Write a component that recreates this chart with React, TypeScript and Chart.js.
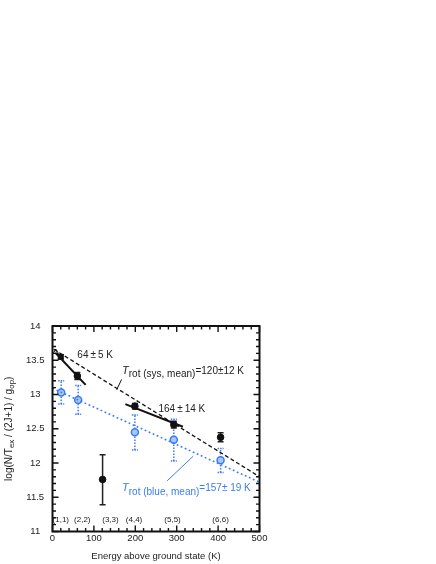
import React, { useEffect, useRef } from "react";
import { Chart, registerables } from "chart.js";
Chart.register(...registerables);

// ---- data ----
const sysEnergy = [20, 60, 121, 199, 293, 406];
const sysValue = [13.55, 13.27, 11.76, 12.83, 12.56, 12.375];
const sysErrLow = [13.52, 13.22, 11.39, 12.79, 12.51, 12.31];
const sysErrHigh = [13.58, 13.32, 12.12, 12.87, 12.61, 12.44];
const sysMarker = ["rect", "circle", "circle", "circle", "circle", "circle"];

const blueEnergy = [21, 62, 199, 293, 406];
const blueValue = [13.03, 12.92, 12.45, 12.34, 12.04];
const blueErrLow = [12.86, 12.71, 12.19, 12.03, 11.86];
const blueErrHigh = [13.2, 13.13, 12.7, 12.64, 12.21];

const openMarkerX = [8];
const openMarkerY = [13.62];

const sysFitX = [3, 500];
const sysFitY = [13.66, 11.8];
const blueFitX = [0, 500];
const blueFitY = [13.09, 11.72];
const lowFitX = [7, 80];
const lowFitY = [13.61, 13.14];
const midFitX = [176, 315];
const midFitY = [12.86, 12.53];
const sysLeaderX = [155, 167];
const sysLeaderY = [13.07, 13.22];
const blueLeaderX = [277, 340];
const blueLeaderY = [11.74, 12.1];

const levelLabels = ["(1,1)", "(2,2)", "(3,3)", "(4,4)", "(5,5)", "(6,6)"];
const levelLabelX = [20, 72, 140, 197, 290, 406];
const levelLabelY = 11.17;

const xTickValues = [0, 100, 200, 300, 400, 500];
const yTickValues = [11, 11.5, 12, 12.5, 13, 13.5, 14];

const xTitle = "Energy above ground state (K)";

// ---- styles ----
const BLUE = "#3a7cf2";
const BLUE_FILL = "#a9c6ff";
const FONT = "'Liberation Sans', Arial, sans-serif";
const TXT = "#222";

type Seg = { t: string; sub?: boolean; italic?: boolean; big?: boolean };

function drawRich(ctx: CanvasRenderingContext2D, segs: Seg[], x: number, y: number, size: number, color: string) {
  let cx = x;
  for (const s of segs) {
    const fs = s.big ? size * 1.1 : size;
    ctx.font = `${s.italic ? "italic " : ""}${fs}px ${FONT}`;
    ctx.fillStyle = color;
    ctx.textBaseline = "alphabetic";
    ctx.textAlign = "left";
    ctx.fillText(s.t, cx, s.sub ? y + 3.5 : y);
    cx += ctx.measureText(s.t).width;
  }
  return cx - x;
}

function line(d: number[], e: number[]) {
  return d.map((v, i) => ({ x: v, y: e[i] }));
}

const decorPlugin = {
  id: "decor",
  beforeDatasetsDraw(chart: any) {
    const ctx: CanvasRenderingContext2D = chart.ctx;
    const xs = chart.scales.x;
    const ys = chart.scales.y;
    ctx.save();
    ctx.strokeStyle = "#222";
    ctx.lineWidth = 1.5;
    sysEnergy.forEach((e, i) => {
      const px = xs.getPixelForValue(e);
      const y1 = ys.getPixelForValue(sysErrLow[i]);
      const y2 = ys.getPixelForValue(sysErrHigh[i]);
      ctx.beginPath();
      ctx.moveTo(px, y1);
      ctx.lineTo(px, y2);
      ctx.moveTo(px - 3, y1);
      ctx.lineTo(px + 3, y1);
      ctx.moveTo(px - 3, y2);
      ctx.lineTo(px + 3, y2);
      ctx.stroke();
    });
    ctx.strokeStyle = BLUE;
    ctx.lineWidth = 1.5;
    blueEnergy.forEach((e, i) => {
      const px = xs.getPixelForValue(e);
      const y1 = ys.getPixelForValue(blueErrLow[i]);
      const y2 = ys.getPixelForValue(blueErrHigh[i]);
      ctx.setLineDash([1.5, 1.5]);
      ctx.beginPath();
      ctx.moveTo(px, y1);
      ctx.lineTo(px, y2);
      ctx.stroke();
      ctx.setLineDash([1.5, 1]);
      ctx.beginPath();
      ctx.moveTo(px - 3, y1);
      ctx.lineTo(px + 3, y1);
      ctx.moveTo(px - 3, y2);
      ctx.lineTo(px + 3, y2);
      ctx.stroke();
    });
    ctx.restore();
  },
  afterDraw(chart: any) {
    const ctx: CanvasRenderingContext2D = chart.ctx;
    const xs = chart.scales.x;
    const ys = chart.scales.y;
    const a = chart.chartArea;
    ctx.save();
    ctx.strokeStyle = "#111";
    ctx.lineWidth = 2;
    ctx.strokeRect(a.left, a.top, a.right - a.left, a.bottom - a.top);
    ctx.lineWidth = 1.4;
    ctx.beginPath();
    for (let v = 0; v <= 500; v += 20) {
      const px = xs.getPixelForValue(v);
      const L = v % 100 === 0 ? 6 : 3.5;
      ctx.moveTo(px, a.bottom);
      ctx.lineTo(px, a.bottom - L);
      ctx.moveTo(px, a.top);
      ctx.lineTo(px, a.top + L);
    }
    for (let k = 0; k <= 30; k++) {
      const v = 11 + k * 0.1;
      const py = ys.getPixelForValue(v);
      const L = k % 5 === 0 ? 6 : 3.5;
      ctx.moveTo(a.left, py);
      ctx.lineTo(a.left + L, py);
      ctx.moveTo(a.right, py);
      ctx.lineTo(a.right - L, py);
    }
    ctx.stroke();

    ctx.font = `8px ${FONT}`;
    ctx.fillStyle = TXT;
    ctx.textAlign = "center";
    ctx.textBaseline = "middle";
    levelLabels.forEach((l, i) => {
      ctx.fillText(l, xs.getPixelForValue(levelLabelX[i]), ys.getPixelForValue(levelLabelY));
    });

    drawRich(ctx, [{ t: "64\u2009\u00b1\u20095 K" }], xs.getPixelForValue(60), ys.getPixelForValue(13.53), 10, TXT);
    drawRich(ctx, [{ t: "164\u2009\u00b1\u200914 K" }], xs.getPixelForValue(256), ys.getPixelForValue(12.74), 10, TXT);
    drawRich(
      ctx,
      [{ t: "T", italic: true, big: true }, { t: "rot (sys, mean)", sub: true }, { t: "=120\u00b112 K" }],
      xs.getPixelForValue(168),
      ys.getPixelForValue(13.3),
      10,
      TXT
    );
    drawRich(
      ctx,
      [{ t: "T", italic: true, big: true }, { t: "rot (blue, mean)", sub: true }, { t: "=157\u00b1 19 K" }],
      xs.getPixelForValue(168),
      ys.getPixelForValue(11.59),
      10,
      BLUE
    );

    ctx.font = `9.5px ${FONT}`;
    ctx.fillStyle = TXT;
    ctx.textAlign = "center";
    ctx.textBaseline = "middle";
    ctx.fillText(xTitle, (a.left + a.right) / 2, 556);

    ctx.save();
    ctx.translate(8, (a.top + a.bottom) / 2);
    ctx.rotate(-Math.PI / 2);
    const segs: Seg[] = [
      { t: "log(N/T" },
      { t: "ex", sub: true },
      { t: " / (2J+1) / g" },
      { t: "op", sub: true },
      { t: ")" },
    ];
    const base = 10;
    let w = 0;
    for (const s of segs) {
      ctx.font = `${s.sub ? base * 0.8 : base}px ${FONT}`;
      w += ctx.measureText(s.t).width;
    }
    let cx = -w / 2;
    for (const s of segs) {
      const fs = s.sub ? base * 0.8 : base;
      ctx.font = `${fs}px ${FONT}`;
      ctx.fillStyle = TXT;
      ctx.textAlign = "left";
      ctx.textBaseline = "alphabetic";
      ctx.fillText(s.t, cx, s.sub ? 5.5 : 3.5);
      cx += ctx.measureText(s.t).width;
    }
    ctx.restore();
    ctx.restore();
  },
};

export default function App() {
  const ref = useRef<HTMLCanvasElement | null>(null);
  useEffect(() => {
    if (!ref.current) return;
    const chart = new Chart(ref.current, {
      type: "scatter",
      data: {
        datasets: [
          {
            type: "line",
            data: line(sysFitX, sysFitY),
            borderColor: "#111",
            borderWidth: 1.3,
            borderDash: [4, 2.5],
            pointRadius: 0,
          },
          {
            type: "line",
            data: line(blueFitX, blueFitY),
            borderColor: BLUE,
            borderWidth: 1.6,
            borderDash: [1.8, 2.6],
            pointRadius: 0,
          },
          {
            type: "line",
            data: line(lowFitX, lowFitY),
            borderColor: "#111",
            borderWidth: 2,
            pointRadius: 0,
          },
          {
            type: "line",
            data: line(midFitX, midFitY),
            borderColor: "#111",
            borderWidth: 2,
            pointRadius: 0,
          },
          {
            type: "line",
            data: line(sysLeaderX, sysLeaderY),
            borderColor: "#111",
            borderWidth: 1,
            pointRadius: 0,
          },
          {
            type: "line",
            data: line(blueLeaderX, blueLeaderY),
            borderColor: BLUE,
            borderWidth: 1,
            pointRadius: 0,
          },
          {
            data: line(openMarkerX, openMarkerY),
            pointStyle: "triangle",
            pointRadius: 3,
            backgroundColor: "#fff",
            borderColor: "#111",
            borderWidth: 1,
          },
          {
            data: line(sysEnergy, sysValue),
            pointStyle: (c: any) => sysMarker[c.dataIndex] as any,
            pointRadius: (c: any) => (sysMarker[c.dataIndex] === "rect" ? 3.5 : 3.3),
            backgroundColor: "#111",
            borderColor: "#111",
            borderWidth: 1,
          },
          {
            data: line(blueEnergy, blueValue),
            pointStyle: "circle",
            pointRadius: 3.5,
            backgroundColor: BLUE_FILL,
            borderColor: BLUE,
            borderWidth: 1.5,
          },
        ],
      },
      options: {
        animation: false,
        responsive: false,
        maintainAspectRatio: false,
        layout: { padding: { left: 0, top: 326, right: 176.5, bottom: 0 } },
        plugins: { legend: { display: false }, tooltip: { enabled: false } },
        scales: {
          x: {
            type: "linear",
            min: 0,
            max: 500,
            afterBuildTicks: (s: any) => {
              s.ticks = xTickValues.map((v) => ({ value: v }));
            },
            afterFit: (s: any) => {
              s.height = 32.5;
            },
            grid: { display: false, drawTicks: false },
            border: { display: false },
            ticks: {
              padding: 1,
              color: TXT,
              font: { family: FONT, size: 9.5 },
              callback: (v: any) => String(v),
            },
          },
          y: {
            type: "linear",
            min: 11,
            max: 14,
            afterBuildTicks: (s: any) => {
              s.ticks = yTickValues.map((v) => ({ value: v }));
            },
            afterFit: (s: any) => {
              s.width = 52.5;
            },
            grid: { display: false, drawTicks: false },
            border: { display: false },
            ticks: {
              padding: 8,
              crossAlign: "center",
              color: TXT,
              font: { family: FONT, size: 9.5 },
              callback: (v: any) => String(v),
            },
          },
        },
      },
      plugins: [decorPlugin],
    });
    return () => chart.destroy();
  }, []);
  return (
    <canvas
      ref={ref}
      width={436}
      height={564}
      style={{ position: "absolute", left: 0, top: 0, width: 436, height: 564 }}
    />
  );
}
